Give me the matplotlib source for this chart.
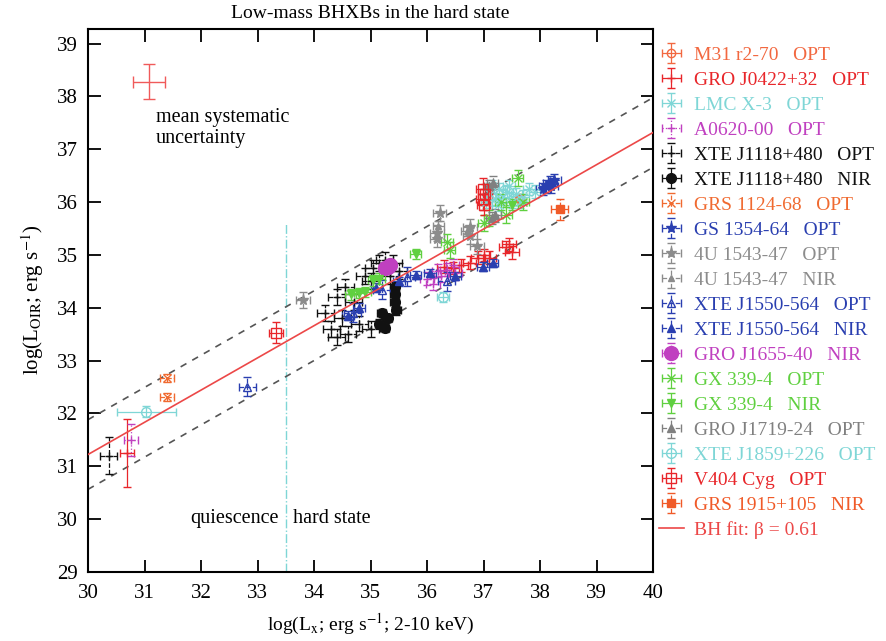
import matplotlib.pyplot as plt
import numpy as np

plt.rcParams['font.family'] = ['Liberation Serif', 'DejaVu Serif']
plt.rcParams['mathtext.fontset'] = 'stix'

# log L_X (2-10 keV) and log L_OIR for each source / waveband
m31_x = [37.64]
m31_y = [36.05]
j0422_x = [30.69, 36.30, 36.45, 36.60, 36.75, 36.90, 37.00, 37.10, 37.40, 37.45, 37.50]
j0422_y = [31.25, 34.78, 34.75, 34.80, 34.85, 34.95, 35.00, 34.95, 35.15, 35.20, 35.05]
lmcx3_x = [37.05, 37.12, 37.20, 37.28, 37.35, 37.42, 37.50, 37.58, 37.70, 37.80, 37.90, 37.25, 37.45, 37.65, 37.15]
lmcx3_y = [36.00, 36.15, 36.05, 36.25, 36.10, 36.20, 36.00, 36.15, 36.10, 36.25, 36.20, 35.95, 36.30, 36.00, 36.30]
a0620_x = [30.76, 36.00, 36.10, 36.20, 36.25, 36.35, 36.45, 36.50]
a0620_y = [31.50, 34.55, 34.45, 34.70, 34.60, 34.72, 34.80, 34.65]
j1118o_x = [30.37, 34.20, 34.30, 34.40, 34.50, 34.55, 34.60, 34.70, 34.80, 34.90, 35.00,
            35.05, 35.15, 35.25, 35.40, 35.50, 35.35, 34.40, 35.00]
j1118o_y = [31.20, 33.90, 33.60, 34.20, 33.80, 34.40, 33.50, 34.10, 33.70, 34.60, 34.50,
            34.75, 34.85, 34.90, 34.85, 34.70, 34.60, 33.45, 33.60]
j1118n_x = [35.43, 35.43, 35.43, 35.45, 35.20, 35.30, 35.15, 35.25]
j1118n_y = [34.40, 34.25, 34.10, 33.95, 33.90, 33.80, 33.70, 33.62]
grs1124_x = [31.40, 31.40]
grs1124_y = [32.67, 32.31]
gs1354_x = [38.17, 38.10, 38.25, 38.05, 38.20]
gs1354_y = [36.37, 36.30, 36.42, 36.25, 36.30]
u1543o_x = [33.80, 36.22, 36.17, 36.17, 36.76, 36.76, 36.88]
u1543o_y = [34.15, 35.80, 35.42, 35.30, 35.53, 35.35, 35.16]
u1543n_x = [36.20, 36.70]
u1543n_y = [35.55, 35.45]
j1550o_x = [32.82, 34.68, 35.20, 35.64, 36.35]
j1550o_y = [32.50, 33.90, 34.34, 34.59, 34.50]
j1550n_x = [34.60, 34.80, 35.10, 35.50, 35.80, 36.05, 36.50, 36.99, 37.16]
j1550n_y = [33.85, 34.00, 34.38, 34.50, 34.62, 34.66, 34.60, 34.78, 34.85]
j1655_x = [35.25, 35.30, 35.35]
j1655_y = [34.75, 34.78, 34.80]
gx339o_x = [36.35, 36.40, 37.00, 37.10, 37.30, 37.60, 37.70, 37.40]
gx339o_y = [35.25, 35.10, 35.60, 35.70, 36.00, 36.45, 36.00, 35.75]
gx339n_x = [34.65, 34.80, 34.90, 35.05, 35.15, 35.80, 37.50]
gx339n_y = [34.25, 34.28, 34.30, 34.52, 34.55, 35.02, 35.95]
j1719_x = [37.16, 37.15, 37.10, 37.20]
j1719_y = [36.37, 35.70, 36.30, 35.75]
j1859_x = [31.03, 36.28]
j1859_y = [32.03, 34.20]
v404_x = [33.33, 36.98, 36.98, 37.00, 37.02]
v404_y = [33.53, 36.25, 36.05, 35.95, 36.15]
grs1915_x = [38.35]
grs1915_y = [35.86]

# 1-sigma errors (one value per source, or one per point)
j0422_xerr = [0.13] + [0.12] * 10
j0422_yerr = [0.65] + [0.12] * 10
a0620_yerr = [0.30] + [0.12] * 7
j1118o_yerr = [0.35] + [0.15] * 18
j1859_xerr = [0.52, 0.10]

labels = ['M31 r2-70   OPT', 'GRO J0422+32   OPT', 'LMC X-3   OPT', 'A0620-00   OPT',
          'XTE J1118+480   OPT', 'XTE J1118+480   NIR', 'GRS 1124-68   OPT', 'GS 1354-64   OPT',
          '4U 1543-47   OPT', '4U 1543-47   NIR', 'XTE J1550-564   OPT', 'XTE J1550-564   NIR',
          'GRO J1655-40   NIR', 'GX 339-4   OPT', 'GX 339-4   NIR', 'GRO J1719-24   OPT',
          'XTE J1859+226   OPT', 'V404 Cyg   OPT', 'GRS 1915+105   NIR']
xs = [m31_x, j0422_x, lmcx3_x, a0620_x, j1118o_x, j1118n_x, grs1124_x, gs1354_x, u1543o_x,
      u1543n_x, j1550o_x, j1550n_x, j1655_x, gx339o_x, gx339n_x, j1719_x, j1859_x, v404_x, grs1915_x]
ys = [m31_y, j0422_y, lmcx3_y, a0620_y, j1118o_y, j1118n_y, grs1124_y, gs1354_y, u1543o_y,
      u1543n_y, j1550o_y, j1550n_y, j1655_y, gx339o_y, gx339n_y, j1719_y, j1859_y, v404_y, grs1915_y]
x_err = [0.08, j0422_xerr, 0.10, 0.12, 0.15, 0.08, 0.12, 0.12, 0.12, 0.10, 0.15, 0.10, 0.10,
         0.10, 0.10, 0.10, j1859_xerr, 0.12, 0.15]
y_err = [0.10, j0422_yerr, 0.12, a0620_yerr, j1118o_yerr, 0.08, 0.08, 0.12, 0.15, 0.10, 0.18,
         0.08, 0.08, 0.15, 0.10, 0.12, 0.10, 0.20, 0.20]

# fit: log L_OIR = beta * log L_X + c, with a +-0.66 dex band
beta = 0.61
fit_at_30 = 31.22
band = 0.66
sys_x, sys_y, sys_xerr, sys_yerr = 31.08, 38.28, 0.28, 0.33
boundary_lx = 33.5

# colour, marker, marker fill, error-bar linestyle, marker size
styles = [
    ('#f26840', 'o', 'none', '-', 6),
    ('#e8262a', '+', '#e8262a', '-', 6),
    ('#7fd6d6', 'x', '#7fd6d6', '-', 6),
    ('#c040c0', '+', '#c040c0', ':', 6),
    ('#111111', '+', '#111111', '--', 6),
    ('#111111', 'o', '#111111', '-', 7),
    ('#f06a30', 'x', '#f06a30', '--', 6),
    ('#2a3fb0', '*', '#2a3fb0', '--', 8),
    ('#8c8c8c', '*', '#8c8c8c', '--', 8),
    ('#8c8c8c', '^', '#8c8c8c', '--', 5),
    ('#2a3fb0', '^', 'none', '--', 6),
    ('#2a3fb0', '^', '#2a3fb0', '--', 6),
    ('#c040c0', 'o', '#c040c0', ':', 10),
    ('#60d040', 'x', '#60d040', '-', 6),
    ('#60d040', 'v', '#60d040', '-', 6),
    ('#808080', '^', '#808080', '--', 6),
    ('#7fd6d6', 'o', 'none', '-', 7),
    ('#e8262a', 's', 'none', '-', 7),
    ('#f05a28', 's', '#f05a28', '--', 6),
]
fit_color = '#ec4848'

fig = plt.figure(figsize=(8.86, 6.41), dpi=100)
ax = fig.add_axes([0.0993, 0.108, 0.638, 0.847])

handles = []
for lx, ly, xe, ye, (col, mk, fc, ls, ms) in zip(xs, ys, x_err, y_err, styles):
    eb = ax.errorbar(lx, ly, xerr=xe, yerr=ye, fmt=mk, color=col, mfc=fc, mec=col,
                     ms=ms, mew=1.0, elinewidth=0.9, capsize=3, capthick=0.9, zorder=3)
    for bl in eb[2]:
        bl.set_linestyle(ls)
    handles.append(eb)

lx_line = np.array([30.0, 40.0])
fit_line = fit_at_30 + beta * (lx_line - 30.0)
fit_h, = ax.plot(lx_line, fit_line, color=fit_color, lw=1.2, zorder=4)
ax.plot(lx_line, fit_line + band, color='#555555', lw=1.2, ls=(0, (4, 4)), zorder=2)
ax.plot(lx_line, fit_line - band, color='#555555', lw=1.2, ls=(0, (4, 4)), zorder=2)

ax.plot([boundary_lx, boundary_lx], [29, 35.6], color='#7fd6d6', lw=1.0, ls='-.', zorder=1)
ax.text(boundary_lx - 0.12, 30.0, 'quiescence', ha='right', va='center', fontsize=14.5)
ax.text(boundary_lx + 0.12, 30.0, 'hard state', ha='left', va='center', fontsize=14.5)

# mean systematic uncertainty marker
ax.errorbar(sys_x, sys_y, xerr=sys_xerr, yerr=sys_yerr, fmt='none', ecolor='#f05a5a',
            elinewidth=1.0, capsize=4, capthick=1.0)
ax.text(31.2, 37.78, 'mean systematic\nuncertainty', ha='left', va='top', fontsize=14.5,
        linespacing=1.15)

ax.set_xlim(30, 40)
ax.set_ylim(29, 39.28)
ax.set_xticks(range(30, 41))
ax.set_yticks(range(29, 40))
ax.tick_params(direction='in', length=9, width=1.3, top=True, right=True, labelsize=15)
ax.tick_params(axis='x', pad=9)
ax.tick_params(axis='y', pad=7)
for sp in ax.spines.values():
    sp.set_linewidth(1.5)

ax.set_title('Low-mass BHXBs in the hard state', fontsize=14, pad=8)
ax.set_xlabel('log(L$_\\mathrm{x}$; erg s$^{-1}$; 2-10 keV)', fontsize=14, labelpad=6)
ax.set_ylabel('log(L$_\\mathrm{OIR}$; erg s$^{-1}$)', fontsize=15, labelpad=8)

leg = ax.legend(handles + [fit_h], labels + ['BH fit: \u03b2 = 0.61'], loc='upper left',
                bbox_to_anchor=(0.996, 0.982), frameon=False, fontsize=14, handlelength=1.3,
                handletextpad=0.5, labelspacing=0.38, borderaxespad=0.0)
for txt, st in zip(leg.get_texts(), [s[0] for s in styles] + [fit_color]):
    txt.set_color(st)

fig.savefig('out.png', dpi=100)
